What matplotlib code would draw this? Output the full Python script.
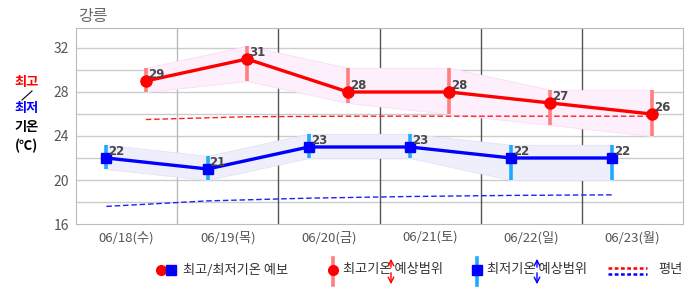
import matplotlib
matplotlib.use("Agg")
import matplotlib.pyplot as plt
import numpy as np

plt.rcParams['font.family'] = ['Noto Sans CJK KR', 'DejaVu Sans']

# data
dates = ['06/18(수)', '06/19(목)', '06/20(금)', '06/21(토)', '06/22(일)', '06/23(월)']
max_temp = [29, 31, 28, 28, 27, 26]
max_lo = [28, 29, 27, 26, 25, 24]
max_hi = [30.2, 32.2, 30.2, 30.2, 28.2, 28.2]
min_temp = [22, 21, 23, 23, 22, 22]
min_lo = [21, 20, 22, 22, 20, 20]
min_hi = [23.2, 22.2, 24.2, 24.2, 23.2, 23.2]
normal_max = [25.5, 25.75, 25.8, 25.8, 25.8, 25.8]
normal_min = [17.6, 18.1, 18.35, 18.5, 18.6, 18.65]

W, H = 686, 295
fig = plt.figure(figsize=(W / 100, H / 100), dpi=100)
ax = fig.add_axes([76 / W, 1 - 224 / H, (683 - 76) / W, (224 - 28) / H])

days = np.arange(len(dates))
max_x = days + 0.69
min_x = days + 0.30

# bands
ax.fill_between(max_x, max_lo, max_hi, facecolor='#fdeffc', edgecolor='#faddf8', lw=0.6, zorder=1)
ax.fill_between(min_x, min_lo, min_hi, facecolor='#efeffc', edgecolor='#e2e2f6', lw=0.6, zorder=1)

# normals
ax.plot(max_x, normal_max, color='#ff2020', lw=1.0, ls=(0, (4, 2)), zorder=2)
ax.plot(min_x, normal_min, color='#2020ff', lw=1.0, ls=(0, (4, 2)), zorder=2)

# range bars
ax.vlines(max_x, max_lo, max_hi, color='#ff7f7f', lw=2.6, zorder=3)
ax.vlines(min_x, min_lo, min_hi, color='#1eaaff', lw=2.6, zorder=3)

# forecast lines
ax.plot(max_x, max_temp, color='#ff0000', lw=2.4, marker='o', ms=8, zorder=4)
ax.plot(min_x, min_temp, color='#0000ff', lw=2.4, marker='s', ms=7.5, zorder=4)

for x, v in zip(max_x, max_temp):
    ax.annotate(str(v), (x, v), xytext=(1.5, 2), textcoords='offset points',
                ha='left', va='baseline', fontsize=8.5, fontweight='bold',
                color='#484848', family='DejaVu Sans', zorder=5)
for x, v in zip(min_x, min_temp):
    ax.annotate(str(v), (x, v), xytext=(1.5, 2), textcoords='offset points',
                ha='left', va='baseline', fontsize=8.5, fontweight='bold',
                color='#484848', family='DejaVu Sans', zorder=5)

ax.set_xlim(0, 6)
ax.set_ylim(16, 16 + (224 - 28) / 11)
ax.set_yticks([16, 20, 24, 28, 32])
ax.set_xticks(days + 0.5)
ax.set_xticklabels(dates)
ax.tick_params(length=0, labelsize=9.5, colors='#555555')
ax.tick_params(axis='y', pad=5, labelsize=10)
ax.tick_params(axis='x', pad=5)

for y in np.arange(18, 34, 2):
    ax.axhline(y, color='#cccccc', lw=1, zorder=0)
ax.axvline(1, color='#bbbbbb', lw=1, zorder=0)
for d in range(2, 6):
    ax.axvline(d, color='#555555', lw=1, zorder=0)
for s in ax.spines.values():
    s.set_color('#bbbbbb')

# overlay in pixel coords for title, side label and legend
ov = fig.add_axes([0, 0, 1, 1], zorder=-1)
ov.set_xlim(0, W)
ov.set_ylim(H, 0)
ov.axis('off')

ov.text(78, 16, '강릉', fontsize=11.5, color='#666666', ha='left', va='center')
ov.text(27, 82, '최고', fontsize=9.5, fontweight='bold', color='#ff0000', ha='center', va='center')
ov.plot([32, 22], [91, 100], color='black', lw=0.8)
ov.text(27, 108, '최저', fontsize=9.5, fontweight='bold', color='#0000ff', ha='center', va='center')
ov.text(27, 127, '기온', fontsize=9.5, fontweight='bold', color='black', ha='center', va='center')
ov.text(27, 146, '(℃)', fontsize=9.5, fontweight='bold', color='black', ha='center', va='center')

ly = 270
lc = '#333333'
ov.plot([161], [ly], 'o', color='#ff0000', ms=7)
ov.plot([171], [ly], 's', color='#0000ff', ms=6.5)
ov.text(183, ly, '최고/최저기온 예보', fontsize=9.5, color=lc, ha='left', va='center')

ov.plot([333, 333], [258, 285], color='#ff7f7f', lw=2.6)
ov.plot([333], [ly], 'o', color='#ff0000', ms=7)
ov.text(343, ly, '최고기온 예상범위', fontsize=9.5, color=lc, ha='left', va='center')
ov.annotate('', xy=(391, 256), xytext=(391, ly), arrowprops=dict(arrowstyle='->', color='#ff0000', lw=1))
ov.annotate('', xy=(391, 287), xytext=(391, ly), arrowprops=dict(arrowstyle='->', color='#ff0000', lw=1))

ov.plot([477, 477], [258, 285], color='#1eaaff', lw=2.6)
ov.plot([477], [ly], 's', color='#0000ff', ms=6.5)
ov.text(487, ly, '최저기온 예상범위', fontsize=9.5, color=lc, ha='left', va='center')
ov.annotate('', xy=(537, 256), xytext=(537, ly), arrowprops=dict(arrowstyle='->', color='#0000ff', lw=1))
ov.annotate('', xy=(537, 287), xytext=(537, ly), arrowprops=dict(arrowstyle='->', color='#0000ff', lw=1))

ov.plot([608, 647], [268, 268], color='#ff0000', lw=1.8, ls=(0, (1.5, 1)))
ov.plot([608, 647], [274, 274], color='#0000ff', lw=1.8, ls=(0, (1.5, 1)))
ov.text(658, ly, '평년', fontsize=9.5, color=lc, ha='left', va='center')

fig.savefig('out.png', dpi=100)
